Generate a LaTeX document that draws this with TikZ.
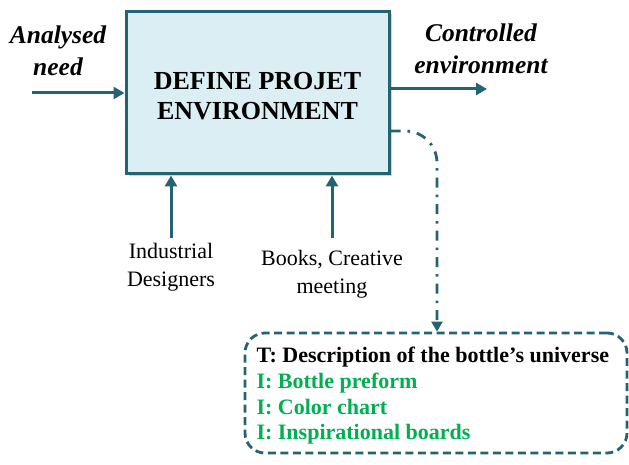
\documentclass[tikz,border=0pt]{standalone}
\usepackage{fontspec}
\setmainfont{Liberation Serif}
\usetikzlibrary{arrows.meta,shadows}
\definecolor{teal1}{HTML}{236373}
\definecolor{boxfill}{HTML}{DAEEF3}
\definecolor{grn}{HTML}{00B050}
\tikzset{
  conn/.style={draw=teal1,line width=3pt,-{Triangle[length=11pt,width=12pt]}},
  lbl/.style={font=\fontsize{25.5}{32}\selectfont\bfseries\itshape,align=center},
  sublbl/.style={font=\fontsize{22}{28}\selectfont,align=center},
}
\begin{document}
\begin{tikzpicture}[x=1pt,y=-1pt]
\useasboundingbox (0,0) rectangle (629,465);
\node[draw=teal1,line width=3pt,fill=boxfill,minimum width=263pt,minimum height=162pt,
  drop shadow={shadow xshift=2.5pt,shadow yshift=-2.5pt,opacity=0.35}] (box) at (257.5,93) {};
\node[font=\fontsize{26}{30}\selectfont\bfseries,align=center] (boxT) at (257.5,96) {DEFINE PROJET\\ENVIRONMENT};
\coordinate (inS) at (32,93);
\draw[conn] (inS) -- (box.west |- inS);
\node[lbl] (inL) at (58,51) {Analysed\\need};
\coordinate (outS) at (box.east |- 0,89);
\coordinate (outE) at (487,89);
\draw[conn] (outS) -- (outE);
\node[lbl] (outL) at (481,49) {Controlled\\environment};
\coordinate (m1) at (171,238);
\coordinate (m2) at (332,238);
\draw[conn] (m1) -- (m1 |- box.south);
\draw[conn] (m2) -- (m2 |- box.south);
\node[sublbl] (m1L) at (171,267) {Industrial\\Designers};
\node[sublbl] (m2L) at (332,274) {Books, Creative\\meeting};
\node[draw=teal1,line width=2.8pt,dash pattern=on 8pt off 4.5pt,rounded corners=20pt,
  minimum width=382pt,minimum height=120pt] (tb) at (436,393) {};
\node[anchor=west,font=\fontsize{22}{25.7}\selectfont\bfseries,align=left] (tt) at (253,396)
  {T: Description of the bottle’s universe\\
   \textcolor{grn}{I: Bottle preform}\\
   \textcolor{grn}{I: Color chart}\\
   \textcolor{grn}{I: Inspirational boards}};
\coordinate (dS) at (box.east |- 0,131);
\draw[draw=teal1,line width=2.8pt,dash pattern=on 10pt off 7pt on 2.5pt off 7pt,
  -{Triangle[length=10pt,width=11pt]}]
  (dS) -- (405,131) to[out=0,in=90] (437,163) -- (tb.north -| 437,0);
\end{tikzpicture}
\end{document}
